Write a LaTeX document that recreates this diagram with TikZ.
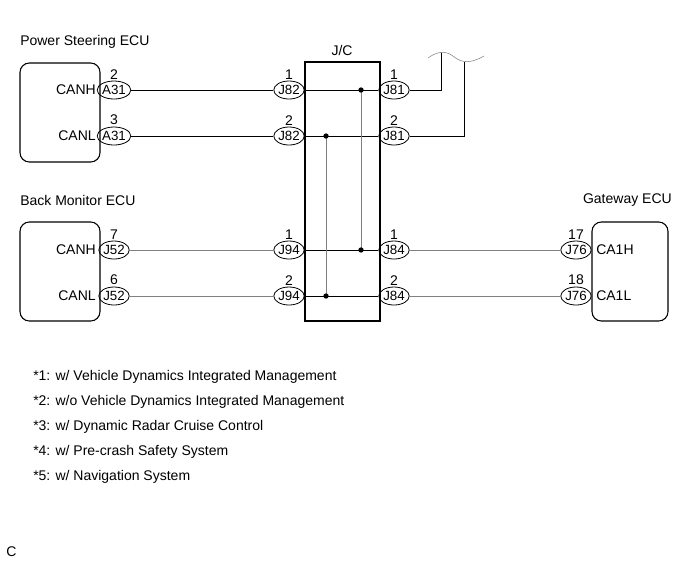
\documentclass[tikz,border=0pt]{standalone}
\usepackage{fontspec}
\setmainfont{Liberation Sans}
\tikzset{
  ecu/.style={draw,thick,rounded corners=7pt},
  conn/.style={draw,semithick,ellipse,inner sep=0pt,minimum width=21pt,minimum height=13.5pt,font=\fontsize{10}{11}\selectfont},
  wire/.style={draw,thin},
  gwire/.style={draw,thin,gray},
  txt/.style={font=\fontsize{10.5}{12}\selectfont,inner sep=0pt}
}
\usetikzlibrary{shapes.geometric}
\begin{document}
\begin{tikzpicture}[x=0.75pt,y=-0.75pt]
        \useasboundingbox (0,0) rectangle (691,562);
        % ECU boxes
        \draw[ecu] (20,63) rectangle (100,162);
        \node[txt,anchor=west] at (20,42) {Power Steering ECU};
        \draw[ecu] (20,222) rectangle (100,321);
        \node[txt,anchor=west] at (20,200) {Back Monitor ECU};
        \draw[ecu] (592,222) rectangle (668,321);
        \node[txt,anchor=east] at (672,200) {Gateway ECU};
        % J/C
        \draw[thick] (305,62) rectangle (380,321);
        \node[txt] at (342,50) {J/C};
        % connectors
        \node[conn] (a1) at (114,90) {A31};
        \node[conn] (a2) at (114,136) {A31};
        \node[conn] (b1) at (289,90) {J82};
        \node[conn] (b2) at (289,136) {J82};
        \node[conn] (c1) at (394,90) {J81};
        \node[conn] (c2) at (394,136) {J81};
        \node[conn] (d1) at (114,250) {J52};
        \node[conn] (d2) at (114,296) {J52};
        \node[conn] (e1) at (289,250) {J94};
        \node[conn] (e2) at (289,296) {J94};
        \node[conn] (f1) at (394,250) {J84};
        \node[conn] (f2) at (394,296) {J84};
        \node[conn] (g1) at (576,250) {J76};
        \node[conn] (g2) at (576,296) {J76};
        % pin numbers
        \foreach \n/\t in {a1/2,a2/3,b1/1,b2/2,c1/1,c2/2,d1/7,d2/6,e1/1,e2/2,f1/1,f2/2,g1/17,g2/18}
          \node[txt,anchor=south] at ([yshift=1pt]\n.north) {\t};
        % terminal labels
        \node[txt,anchor=east] at (96,90) {CANH};
        \node[txt,anchor=east] at (96,136) {CANL};
        \node[txt,anchor=east] at (96,250) {CANH};
        \node[txt,anchor=east] at (96,296) {CANL};
        \node[txt,anchor=west] at (596,250) {CA1H};
        \node[txt,anchor=west] at (596,296) {CA1L};
        % wires
        \draw[wire] (a1) -- (b1);
        \draw[wire] (a2) -- (b2);
        \draw[wire] (b1) -- (c1);
        \draw[wire] (b2) -- (c2);
        \draw[gwire] (d1) -- (e1);
        \draw[gwire] (d2) -- (e2);
        \draw[wire] (e1) -- (f1);
        \draw[wire] (e2) -- (f2);
        \draw[gwire] (f1) -- (g1);
        \draw[gwire] (f2) -- (g2);
        % junction points
        \coordinate (p1) at (361,90);
        \coordinate (p2) at (326,136);
        \coordinate (q1) at (361,250);
        \coordinate (q2) at (326,296);
        \draw[gwire] (p1) -- (q1);
        \draw[gwire] (p2) -- (q2);
        \foreach \p in {p1,p2,q1,q2}
          \fill (\p) circle [radius=2pt];
        % branch to wavy line
        \coordinate (w1) at (441,53);
        \coordinate (w2) at (464,62);
        \draw[wire] (c1) -- (441,90) -- (w1);
        \draw[wire] (c2) -- (464,136) -- (w2);
        \draw[gray] (428,58) .. controls (436,52) and (445,50) .. (453,56)
          .. controls (462,64) and (472,63) .. (484,56);
        % notes
        \foreach \t [count=\i] in {{*1: w/ Vehicle Dynamics Integrated Management},
            {*2: w/o Vehicle Dynamics Integrated Management},
            {*3: w/ Dynamic Radar Cruise Control},
            {*4: w/ Pre-crash Safety System},
            {*5: w/ Navigation System}}
          \node[txt,anchor=west] at (33,352+25*\i) {\t};
        \node[txt,anchor=west] at (6,552) {C};
\end{tikzpicture}
\end{document}
